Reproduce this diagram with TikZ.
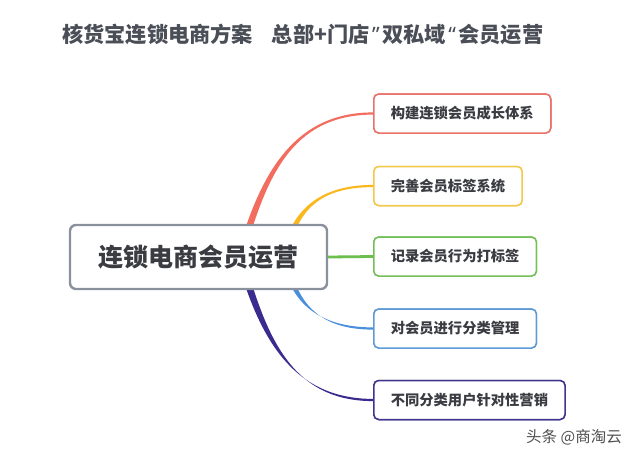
\documentclass[tikz,border=0pt]{standalone}
\usepackage{fontspec}
\newfontfamily\cjk{Noto Sans CJK SC}
\newfontfamily\latq{Noto Sans}
\usetikzlibrary{calc}
\definecolor{titlec}{HTML}{4A4E57}
\definecolor{centerc}{HTML}{8A909C}
\definecolor{textc}{HTML}{3A3C42}
\definecolor{redl}{HTML}{F26D5E}
\definecolor{redb}{HTML}{E8736B}
\definecolor{yell}{HTML}{FBB81E}
\definecolor{yelb}{HTML}{F3C84A}
\definecolor{grnl}{HTML}{6CBF4E}
\definecolor{grnb}{HTML}{72C057}
\definecolor{blul}{HTML}{4A8FDE}
\definecolor{blub}{HTML}{5E9AD6}
\definecolor{purl}{HTML}{3A2C8E}
\definecolor{purb}{HTML}{3F358C}
\definecolor{wmc}{HTML}{505050}
\tikzset{
  centerbox/.style={draw=centerc, line width=2.4pt, rounded corners=6pt, fill=white,
    minimum width=257pt, minimum height=64pt, inner sep=0pt,
    font=\cjk\bfseries\fontsize{25}{30}\selectfont, text=textc},
  childbox/.style={draw=#1, line width=1.5pt, rounded corners=5pt, fill=white,
    minimum height=39pt, inner xsep=17pt, inner ysep=0pt, anchor=west,
    font=\cjk\bfseries\fontsize{14.3}{17}\selectfont, text=textc},
  titletext/.style={font=\cjk\bfseries\fontsize{21.2}{24}\selectfont, text=titlec, anchor=west, inner sep=0pt},
  wmtext/.style={font=\cjk\fontsize{15.5}{18}\selectfont, text=wmc, anchor=west, inner sep=0pt},
}
% tapered branch: colour, start, c1, c2, end, start half-width, end half-width
\newcommand{\taperbranch}[7]{%
  \fill[#1] ($#2+(-#6,0)$) .. controls ($#3+(-#6,0)$) and ($#4+(0,-#7)$) .. ($#5+(0,-#7)$)
    -- ($#5+(0,#7)$) .. controls ($#4+(0,#7)$) and ($#3+(#6,0)$) .. ($#2+(#6,0)$) -- cycle;}
\begin{document}
\begin{tikzpicture}[x=1pt,y=-1pt]
\useasboundingbox (0,0) rectangle (640,459);
\fill[white] (0,0) rectangle (640,459);

\node[titletext] (title) at (62,34) {核货宝连锁电商方案\hspace{19pt}总部+门店\hspace{2.5pt}{\latq\bfseries ”}\hspace{2.5pt}双私域\hspace{2.5pt}{\latq\bfseries “}\hspace{2.5pt}会员运营};

% child nodes
\node[childbox=redb] (c1) at (373,113.5) {构建连锁会员成长体系};
\node[childbox=yelb] (c2) at (373,186) {完善会员标签系统};
\node[childbox=grnb] (c3) at (373,256.5) {记录会员行为打标签};
\node[childbox=blub] (c4) at (373,328.5) {对会员进行分类管理};
\node[childbox=purb] (c5) at (373,400) {不同分类用户针对性营销};

% branch origins (hidden behind the central node)
\coordinate (o1) at (240,257);
\coordinate (o2) at (285,257);

% branches
\taperbranch{redl}{(o1)}{(262,180)}{(290,113.5)}{(c1.west)}{3.6}{1.1}
\taperbranch{yell}{(o2)}{(293,210)}{(320,186)}{(c2.west)}{3.2}{1.1}
\taperbranch{blul}{(o2)}{(293,304)}{(320,328.5)}{(c4.west)}{3.2}{1.1}
\taperbranch{purl}{(o1)}{(262,334)}{(290,400)}{(c5.west)}{3.8}{1.1}

% central node
\node[centerbox] (center) at (198.5,257) {连锁电商会员运营};

\draw[grnl, line width=2.8pt] (center.east) -- (c3.west);

% redraw child boxes over line ends
\node[childbox=redb] at (373,113.5) {构建连锁会员成长体系};
\node[childbox=yelb] at (373,186) {完善会员标签系统};
\node[childbox=grnb] at (373,256.5) {记录会员行为打标签};
\node[childbox=blub] at (373,328.5) {对会员进行分类管理};
\node[childbox=purb] at (373,400) {不同分类用户针对性营销};

\node[wmtext] (wm) at (526,437) {头条 @商淘云};
\end{tikzpicture}
\end{document}
